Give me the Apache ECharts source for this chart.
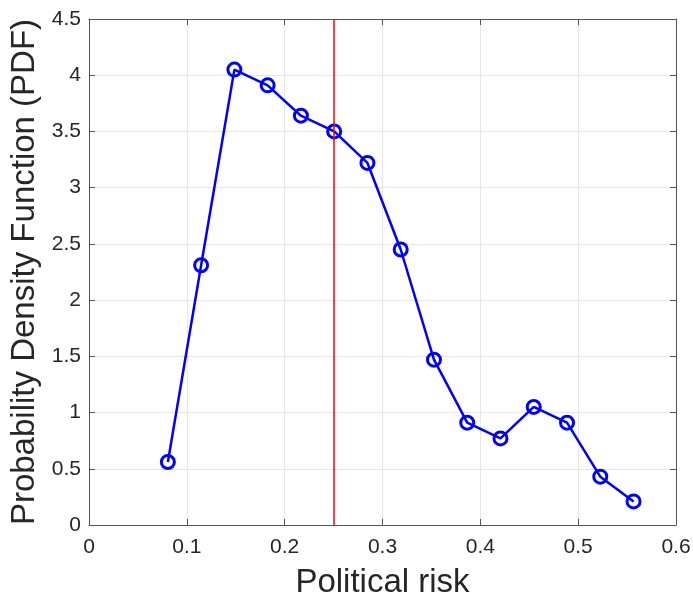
<!DOCTYPE html>
<html><head><meta charset="utf-8">
<script src="https://cdn.jsdelivr.net/npm/echarts@6/dist/echarts.min.js"></script>
<style>html,body{margin:0;padding:0;background:#fff}#c{width:693px;height:599px}</style>
</head><body><div id="c"></div>
<script>
const xValues = [0.0806,0.1146,0.1486,0.1826,0.2166,0.2506,0.2846,0.3186,0.3526,0.3866,0.4206,0.4546,0.4886,0.5226,0.5566];
const pdfValues = [0.56,2.31,4.05,3.91,3.64,3.50,3.22,2.45,1.47,0.91,0.77,1.05,0.91,0.43,0.21];
const meanLine = 0.253;
const xTitle = 'Political risk';
const yTitle = 'Probability Density Function (PDF)';

const chart = echarts.init(document.getElementById('c'));
const font = 'Liberation Sans, Arial, sans-serif';
const axisCol = '#555';
const txtCol = '#262626';
const common = {
  axisLine:{show:true,onZero:false,lineStyle:{color:axisCol,width:1}},
  axisTick:{show:true,inside:true,length:6,lineStyle:{color:axisCol}},
};
chart.setOption({
  animation:false,
  grid:{left:89,right:17,top:19,bottom:74,containLabel:false,outerBoundsMode:'none'},
  xAxis:[{
    type:'value',min:0,max:0.6,interval:0.1,...common,
    axisLabel:{color:txtCol,fontSize:21,fontFamily:font,margin:12,formatter:v=>String(+v.toFixed(1))},
    splitLine:{show:true,lineStyle:{color:'#e6e6e6'}},
    name:xTitle,nameLocation:'middle',nameGap:41,
    nameTextStyle:{color:txtCol,fontSize:33,fontFamily:font}
  },{
    type:'value',position:'top',min:0,max:0.6,interval:0.1,...common,
    axisLabel:{show:false},splitLine:{show:false}
  }],
  yAxis:[{
    type:'value',min:0,max:4.5,interval:0.5,...common,
    axisLabel:{color:txtCol,fontSize:21,fontFamily:font,margin:8},
    splitLine:{show:true,lineStyle:{color:'#e6e6e6'}},
    name:yTitle,nameLocation:'middle',nameGap:43,
    nameTextStyle:{color:txtCol,fontSize:33,fontFamily:font}
  },{
    type:'value',position:'right',min:0,max:4.5,interval:0.5,...common,
    axisLabel:{show:false},splitLine:{show:false}
  }],
  series:[{
    type:'line',
    data:xValues.map((x,i)=>[x,pdfValues[i]]),
    symbol:'circle',symbolSize:13,showAllSymbol:true,
    lineStyle:{color:'#0000ff',width:2.5},
    itemStyle:{color:'rgba(0,0,0,0)',borderColor:'#0000ff',borderWidth:3},
    markLine:{
      silent:true,symbol:'none',label:{show:false},
      lineStyle:{color:'#ff0000',width:1.5,type:'solid'},
      data:[{xAxis:meanLine}]
    }
  }]
});
</script></body></html>
